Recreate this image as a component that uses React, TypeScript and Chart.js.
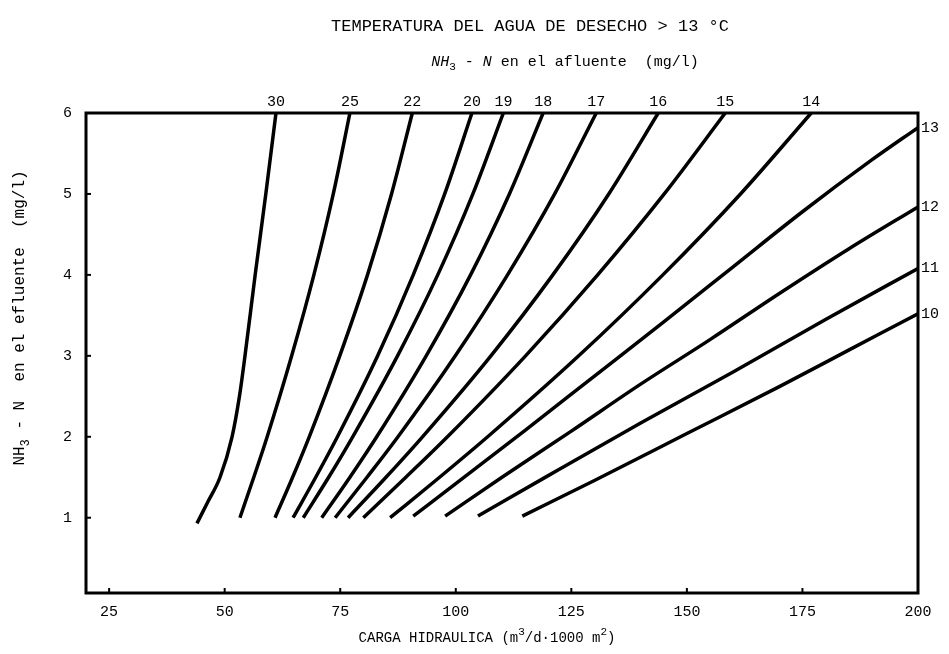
import React, { useEffect, useRef } from "react";
import { Chart, registerables } from "chart.js";

Chart.register(...registerables);

// ---- axis ticks ----
const xTicks = [25, 50, 75, 100, 125, 150, 175, 200];
const yTicks = [1, 2, 3, 4, 5, 6];

// ---- curves (influent NH3-N, mg/l) ----
// curve 30
const x30 = [44, 46.4, 49, 51.6, 53.2, 54.4, 56.6, 58.9, 61.1];
const y30 = [0.93, 1.2, 1.5, 2, 2.5, 3, 4, 5, 6];
// curves 25 .. 14 share these effluent levels
const yLevels = [1, 1.5, 2, 3, 4, 5, 6];
const x25 = [53.3, 56.3, 59.2, 64.5, 69.3, 73.5, 77.1];
const x22 = [60.9, 64.7, 68.3, 74.9, 80.9, 86.1, 90.6];
const x20 = [64.8, 69.7, 74.4, 83.1, 90.8, 97.6, 103.5];
const x19 = [67, 72.5, 77.7, 87.4, 96.1, 103.7, 110.3];
const x18 = [71, 77.1, 82.9, 93.6, 103.2, 111.6, 118.9];
const x17 = [73.9, 80.8, 87.5, 99.9, 111.2, 121.4, 130.4];
const x16 = [76.7, 84.9, 92.8, 107.6, 121, 133.1, 143.8];
const x15 = [80, 89.2, 98.2, 115.1, 130.7, 145.1, 158.3];
const x14 = [85.8, 96.5, 106.9, 126.6, 144.8, 161.6, 176.9];
// curves 13 .. 10 end on the right border
const x13 = [90.8, 100, 115, 130, 145, 160, 175, 190, 200];
const y13 = [1.02, 1.42, 2.08, 2.75, 3.42, 4.1, 4.78, 5.42, 5.82];
const x12 = [97.7, 110, 125, 140, 155, 170, 185, 200];
const y12 = [1.02, 1.5, 2.07, 2.65, 3.2, 3.77, 4.32, 4.84];
const x11 = [104.8, 120, 140, 160, 180, 200];
const y11 = [1.02, 1.52, 2.17, 2.8, 3.45, 4.08];
const x10 = [114.4, 130, 150, 170, 185, 200];
const y10 = [1.02, 1.46, 2.04, 2.62, 3.07, 3.52];

const curveNames = ["30", "25", "22", "20", "19", "18", "17", "16", "15", "14", "13", "12", "11", "10"];
const curveXs = [x30, x25, x22, x20, x19, x18, x17, x16, x15, x14, x13, x12, x11, x10];
const curveYs = [y30, yLevels, yLevels, yLevels, yLevels, yLevels, yLevels, yLevels, yLevels, yLevels, y13, y12, y11, y10];

const FONT = '"Liberation Mono", "DejaVu Sans Mono", monospace';

type Run = { t: string; italic?: boolean; sub?: boolean; sup?: boolean };

function drawRuns(ctx: CanvasRenderingContext2D, runs: Run[], cx: number, cy: number, size: number) {
  const fontFor = (r: Run) => `${r.italic ? "italic " : ""}${r.sub || r.sup ? Math.round(size * 0.75) : size}px ${FONT}`;
  let total = 0;
  runs.forEach((r) => {
    ctx.font = fontFor(r);
    total += ctx.measureText(r.t).width;
  });
  let x = cx - total / 2;
  ctx.textAlign = "left";
  ctx.textBaseline = "middle";
  runs.forEach((r) => {
    ctx.font = fontFor(r);
    const dy = r.sub ? size * 0.35 : r.sup ? -size * 0.4 : 0;
    ctx.fillText(r.t, x, cy + dy);
    x += ctx.measureText(r.t).width;
  });
}

const annotPlugin = {
  id: "annot",
  afterDatasetsDraw(chart: any) {
    const { ctx, chartArea: a, scales } = chart;
    const xs = scales.x;
    const ys = scales.y;
    ctx.save();
    ctx.fillStyle = "#000";
    ctx.strokeStyle = "#000";
    // frame
    ctx.lineWidth = 3;
    ctx.strokeRect(a.left, a.top, a.right - a.left, a.bottom - a.top);
    // inward tick marks
    ctx.lineWidth = 2;
    xTicks.forEach((v) => {
      const px = xs.getPixelForValue(v);
      ctx.beginPath();
      ctx.moveTo(px, a.bottom);
      ctx.lineTo(px, a.bottom - 5);
      ctx.stroke();
    });
    yTicks.forEach((v) => {
      const py = ys.getPixelForValue(v);
      ctx.beginPath();
      ctx.moveTo(a.left, py);
      ctx.lineTo(a.left + 5, py);
      ctx.stroke();
    });
    // curve labels
    ctx.font = `15px ${FONT}`;
    chart.data.datasets.forEach((ds: any) => {
      const last = ds.data[ds.data.length - 1];
      const px = xs.getPixelForValue(last.x);
      const py = ys.getPixelForValue(last.y);
      if (last.y >= 6) {
        ctx.textAlign = "center";
        ctx.textBaseline = "bottom";
        ctx.fillText(ds.label, px, a.top - 3);
      } else {
        ctx.textAlign = "left";
        ctx.textBaseline = "middle";
        ctx.fillText(ds.label, a.right + 3, py);
      }
    });
    // titles
    const cx = (a.left + a.right) / 2;
    ctx.textAlign = "center";
    ctx.textBaseline = "middle";
    ctx.font = `17px ${FONT}`;
    ctx.fillText("TEMPERATURA DEL AGUA DE DESECHO > 13 °C", 530, 26);
    drawRuns(ctx, [
      { t: "NH", italic: true },
      { t: "3", sub: true },
      { t: " - " },
      { t: "N", italic: true },
      { t: " en el afluente  (mg/l)" },
    ], 565, 62, 15);
    drawRuns(ctx, [
      { t: "CARGA HIDRAULICA (m" },
      { t: "3", sup: true },
      { t: "/d·1000 m" },
      { t: "2", sup: true },
      { t: ")" },
    ], cx - 15, 638, 14);
    ctx.save();
    ctx.translate(20, 318);
    ctx.rotate(-Math.PI / 2);
    drawRuns(ctx, [
      { t: "NH" },
      { t: "3", sub: true },
      { t: " - N  en el efluente  (mg/l)" },
    ], 0, 0, 16);
    ctx.restore();
    ctx.restore();
  },
};

export default function App() {
  const ref = useRef<HTMLCanvasElement | null>(null);
  useEffect(() => {
    if (!ref.current) return;
    const datasets = curveNames.map((name, i) => ({
      label: name,
      data: curveXs[i].map((xv, j) => ({ x: xv, y: curveYs[i][j] })),
      borderColor: "#000",
      borderWidth: 3.5,
      pointRadius: 0,
      showLine: true,
      fill: false,
      cubicInterpolationMode: "monotone" as const,
    }));
    const chart = new Chart(ref.current, {
      type: "scatter",
      data: { datasets },
      plugins: [annotPlugin],
      options: {
        animation: false,
        responsive: false,
        devicePixelRatio: 1,
        layout: { padding: { top: 113, right: 31, left: 0, bottom: 0 } },
        plugins: { legend: { display: false }, tooltip: { enabled: false }, title: { display: false } },
        scales: {
          x: {
            type: "linear",
            min: 20,
            max: 200,
            grid: { display: false, drawTicks: false },
            border: { display: false },
            afterBuildTicks: (s: any) => { s.ticks = xTicks.map((v) => ({ value: v })); },
            afterFit: (s: any) => { s.height = 61; },
            ticks: { color: "#000", padding: 10, font: { family: FONT, size: 15 }, maxRotation: 0, autoSkip: false },
          },
          y: {
            type: "linear",
            min: 0.07,
            max: 6,
            grid: { display: false, drawTicks: false },
            border: { display: false },
            afterBuildTicks: (s: any) => { s.ticks = yTicks.map((v) => ({ value: v })); },
            afterFit: (s: any) => { s.width = 86; },
            ticks: { color: "#000", padding: 14, font: { family: FONT, size: 15 }, autoSkip: false },
          },
        },
      },
    });
    return () => chart.destroy();
  }, []);
  return (
    <div style={{ position: "fixed", left: 0, top: 0, width: 949, height: 654, background: "#fff" }}>
      <canvas ref={ref} width={949} height={654} style={{ width: 949, height: 654, display: "block" }} />
    </div>
  );
}
